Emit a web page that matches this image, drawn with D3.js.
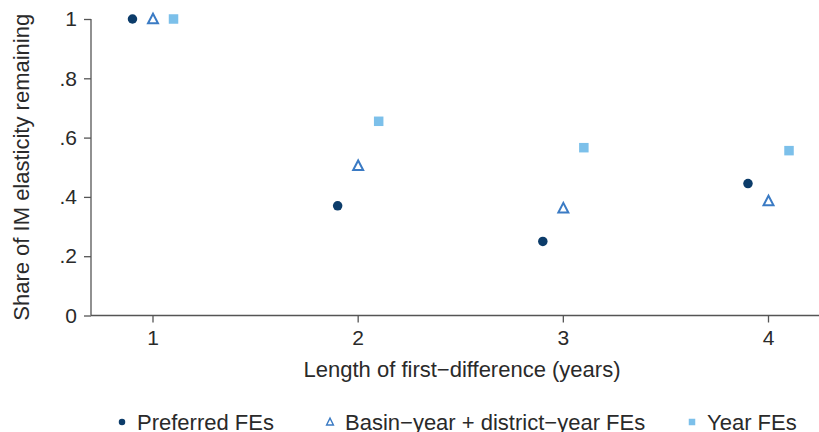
<!DOCTYPE html>
<html lang="en">
<head>
<meta charset="utf-8"/>
<title>Share of IM elasticity remaining</title>
<style>
  * { margin: 0; padding: 0; }
  body { background: #fff; }
  svg { display: block; font-family: "Liberation Sans", Arial, sans-serif; }
  text { fill: #2a2a2a; }
  .axis path, .axis line { stroke: #555; stroke-width: 1.3px; }
  .axis text { font-size: 21px; fill: #2a2a2a; }
  text.title { font-size: 22px; }
  text.legend { font-size: 22px; }
</style>
<script src="https://d3js.org/d3.v7.min.js"></script>
</head>
<body>
<svg width="819" height="432"></svg>
<script>
// lengths of first-difference, and the share remaining per specification
const lags = [1, 2, 3, 4];
const preferred = [1, 0.37, 0.25, 0.445];
const basinDistrict = [1, 0.505, 0.362, 0.386];
const yearFE = [1, 0.655, 0.566, 0.556];
const yTicks = [0, 0.2, 0.4, 0.6, 0.8, 1];

const series = [
  { name: "Preferred FEs", values: preferred, offset: -0.1, shape: "circle", color: "#0c3c6a" },
  { name: "Basin\u2212year + district\u2212year FEs", values: basinDistrict, offset: 0, shape: "triangle", color: "#3b7bc4" },
  { name: "Year FEs", values: yearFE, offset: 0.1, shape: "square", color: "#7cc0ea" }
];

const svg = d3.select("svg");
const plotL = 91, plotR = 819, plotT = 19, plotB = 315.5;

const x = d3.scaleLinear().domain([1, 4]).range([153, 768.5]);
const y = d3.scaleLinear().domain([0, 1]).range([plotB, plotT]);

// x axis spanning the whole plot width
const xa = svg.append("g").attr("class", "axis")
  .attr("transform", `translate(0,${plotB})`);
xa.append("line").attr("x1", plotL).attr("x2", plotR).attr("y1", 0).attr("y2", 0);
xa.selectAll("g.tick").data(lags).enter().append("g").attr("class", "tick")
  .attr("transform", d => `translate(${x(d)},0)`)
  .call(g => {
    g.append("line").attr("y2", 7);
    g.append("text").attr("y", 29).attr("text-anchor", "middle").text(d => d);
  });

// y axis
const ya = svg.append("g").attr("class", "axis")
  .attr("transform", `translate(${plotL},0)`)
  .call(d3.axisLeft(y).tickValues(yTicks).tickSize(7).tickPadding(7)
    .tickFormat(d => d === 0 ? "0" : d === 1 ? "1" : d3.format(".1f")(d).replace(/^0/, "")));
ya.select(".domain").attr("d", `M0,${plotB}V${plotT}`);

// axis titles
svg.append("text").attr("class", "title")
  .attr("transform", `translate(29,${(plotT + plotB) / 2}) rotate(-90)`)
  .attr("text-anchor", "middle")
  .text("Share of IM elasticity remaining");

svg.append("text").attr("class", "title")
  .attr("x", (plotL + plotR) / 2 + 7).attr("y", 377)
  .attr("text-anchor", "middle")
  .text("Length of first\u2212difference (years)");

// markers
function drawMarker(g, shape, color, size) {
  if (shape === "circle") {
    g.append("circle").attr("r", size / 2).attr("fill", color);
  } else if (shape === "square") {
    g.append("rect").attr("x", -size / 2).attr("y", -size / 2)
      .attr("width", size).attr("height", size).attr("fill", color);
  } else {
    const h = size * 0.9, w = size * 1.05;
    g.append("path")
      .attr("d", `M0,${-h / 2 - 1}L${w / 2},${h / 2}L${-w / 2},${h / 2}Z`)
      .attr("fill", "none").attr("stroke", color)
      .attr("stroke-width", size > 7 ? 2 : 1.4).attr("stroke-linejoin", "miter");
  }
}

series.forEach(s => {
  svg.append("g").selectAll("g").data(lags).enter().append("g")
    .attr("transform", (d, i) => `translate(${x(d + s.offset)},${y(s.values[i])})`)
    .each(function () { drawMarker(d3.select(this), s.shape, s.color, 9.5); });
});

// legend
const legendX = [122, 330, 692];
series.forEach((s, i) => {
  const g = svg.append("g").attr("transform", `translate(${legendX[i]},422)`);
  drawMarker(g, s.shape, s.color, 6.5);
  svg.append("text").attr("class", "legend")
    .attr("x", legendX[i] + 15).attr("y", 429.5)
    .text(s.name);
});
</script>
</body>
</html>
